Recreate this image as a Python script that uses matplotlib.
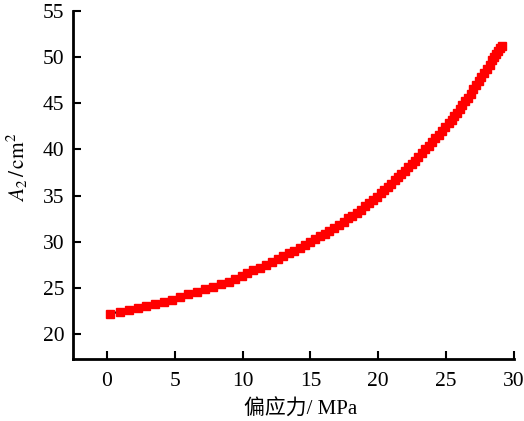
import matplotlib
matplotlib.use("Agg")
import matplotlib.pyplot as plt

stress = [0.22, 1.0, 1.64, 2.3, 2.92, 3.54, 4.2, 4.84, 5.42, 6.0, 6.65, 7.22, 7.79, 8.38,
          8.97, 9.43, 9.97, 10.34, 10.8, 11.25, 11.7, 12.15, 12.6, 13.0, 13.4, 13.8, 14.2,
          14.6, 15.0, 15.35, 15.7, 16.05, 16.4, 16.75, 17.1, 17.45, 17.8, 18.1, 18.4, 18.7,
          19.0, 19.3, 19.6, 19.9, 20.2, 20.45, 20.7, 20.95, 21.2, 21.45, 21.7, 21.95, 22.2,
          22.45, 22.7, 22.95, 23.2, 23.45, 23.7, 23.95, 24.2, 24.45, 24.7, 24.95, 25.2, 25.4,
          25.6, 25.8, 26.0, 26.2, 26.4, 26.6, 26.8, 27.0, 27.2, 27.4, 27.6, 27.8, 28.0, 28.2,
          28.4, 28.55, 28.7, 28.85, 29.0, 29.1]
area = [22.2, 22.45, 22.65, 22.85, 23.05, 23.25, 23.5, 23.75, 24.0, 24.3, 24.55, 24.85, 25.1, 25.4,
        25.67, 26.0, 26.3, 26.6, 26.9, 27.2, 27.5, 27.85, 28.15, 28.45, 28.75, 29.05, 29.35,
        29.65, 30.0, 30.3, 30.6, 30.9, 31.2, 31.55, 31.85, 32.2, 32.55, 32.85, 33.15, 33.5,
        33.85, 34.2, 34.55, 34.9, 35.3, 35.6, 35.95, 36.3, 36.65, 37.0, 37.35, 37.7, 38.05,
        38.45, 38.8, 39.2, 39.6, 40.0, 40.4, 40.8, 41.2, 41.6, 42.0, 42.4, 42.85, 43.2,
        43.6, 44.0, 44.4, 44.8, 45.2, 45.6, 46.05, 46.5, 46.95, 47.4, 47.85, 48.3, 48.75, 49.2,
        49.65, 50.0, 50.35, 50.7, 51.0, 51.2]

xticks = [0, 5, 10, 15, 20, 25, 30]
yticks = [20, 25, 30, 35, 40, 45, 50, 55]

plt.rcParams['font.family'] = ['Liberation Serif', 'Noto Sans CJK SC']
plt.rcParams['mathtext.fontset'] = 'stix'

fig = plt.figure(figsize=(5.24, 4.21), dpi=100)
ax = fig.add_axes([0.139, 0.147, 0.842, 0.827])

ax.plot(stress, area, color='black', lw=1.5, zorder=2)
ax.plot(stress, area, ls='none', marker='s', ms=5.8, mfc='red', mec='red', zorder=3)

ax.set_xlim(-2.5, 30)
ax.set_ylim(17.3, 55)
ax.set_xticks(xticks)
ax.set_yticks(yticks)
ax.tick_params(direction='in', length=6, width=1.5, labelsize=15.5)
ax.tick_params(axis='x', pad=9)
ax.tick_params(axis='y', pad=6)
for s in ['top', 'right']:
    ax.spines[s].set_visible(False)
for s in ['left', 'bottom']:
    ax.spines[s].set_linewidth(2)

ax.set_xlabel('偏应力/ MPa', fontsize=15, family=['Liberation Serif', 'Noto Sans CJK SC'])
ax.xaxis.set_label_coords(0.5 + (301 - 293.5) / 441, -(400 - 359) / 348)
ax.set_ylabel(r'$A_2\,/\,\mathrm{cm}^2$', fontsize=15.5)
ax.yaxis.set_label_coords(-(73 - 30) / 441, (359 - 167) / 348)

fig.savefig('out.png', dpi=100)
